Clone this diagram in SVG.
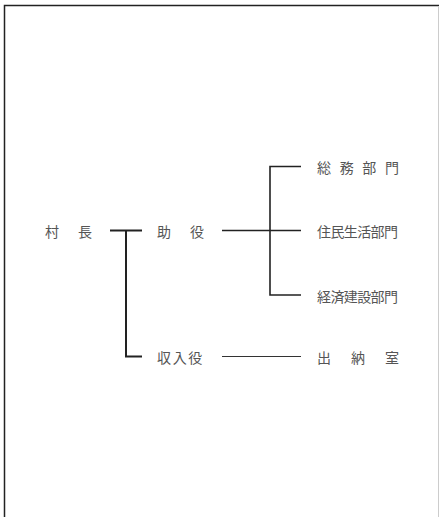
<svg xmlns="http://www.w3.org/2000/svg" width="439" height="517" viewBox="0 0 439 517">
<style>
.t{font-family:"Noto Sans CJK JP","Noto Sans CJK SC",sans-serif;font-size:14px;fill:#555;dominant-baseline:central}
.thick{stroke:#222;stroke-width:2;fill:none}
.line{stroke:#222;stroke-width:1.6;fill:none}
.thin{stroke:#333;stroke-width:1.2;fill:none}
</style>
<rect width="439" height="517" fill="#fff"/>
<g id="frame">
<path d="M4.5 517V5.5H439" stroke="#222" stroke-width="1.5" fill="none"/>
<path d="M438.5 6V517" stroke="#ccc" stroke-width="1" fill="none"/>
</g>
<g id="connectors">
<path class="thick" d="M110 230.5H142M126 230.5V356.5H142"/>
<path class="line" d="M222 230.5H301M301 166.5H270V295H301"/>
<path class="thin" d="M222 356.5H301"/>
</g>
<g id="soncho"><text class="t" x="45 78" y="231">村長</text></g>
<g id="joyaku"><text class="t" x="157 190" y="231">助役</text></g>
<g id="shunyuyaku"><text class="t" x="157 172.7 188.3" y="357">収入役</text></g>
<g id="somu"><text class="t" x="317 339.7 362.3 385" y="167">総務部門</text></g>
<g id="jumin"><text class="t" x="317 330.4 343.8 357.2 370.6 384" y="231">住民生活部門</text></g>
<g id="keizai"><text class="t" x="317 330.4 343.8 357.2 370.6 384" y="296">経済建設部門</text></g>
<g id="suitoshitsu"><text class="t" x="317 351 385" y="357">出納室</text></g>
</svg>
